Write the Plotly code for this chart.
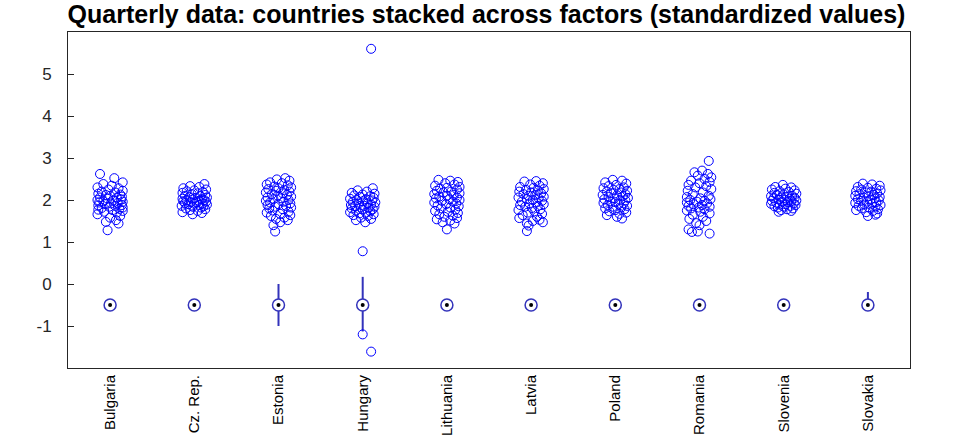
"""Quarterly data: countries stacked across factors (standardized values)"""

import plotly.graph_objects as go

countries = ["Bulgaria", "Cz. Rep.", "Estonia", "Hungary", "Lithuania",
             "Latvia", "Poland", "Romania", "Slovenia", "Slovakia"]

# jittered scatter: (offset from category, value)
bulgaria = [(-0.12, 2.62), (0.05, 2.52), (0.15, 2.42), (-0.08, 2.38), (0.02, 2.34),
            (-0.15, 2.30), (0.10, 2.28), (-0.02, 2.25), (0.15, 2.22), (-0.10, 2.20),
            (0.06, 2.18), (-0.14, 2.15), (0.12, 2.13), (-0.05, 2.12), (0.00, 2.10),
            (0.14, 2.08), (-0.12, 2.06), (0.08, 2.05), (-0.03, 2.03), (0.13, 2.01),
            (-0.15, 2.00), (0.04, 1.99), (-0.08, 1.97), (0.15, 1.96), (-0.13, 1.94),
            (0.09, 1.93), (0.01, 1.92), (-0.06, 1.90), (0.14, 1.88), (-0.14, 1.87),
            (0.06, 1.86), (-0.01, 1.84), (0.15, 1.82), (-0.10, 1.81), (0.11, 1.79),
            (-0.14, 1.77), (0.03, 1.76), (0.15, 1.74), (-0.07, 1.72), (0.08, 1.70),
            (-0.15, 1.66), (0.12, 1.62), (0.00, 1.58), (0.07, 1.52), (-0.05, 1.48),
            (0.10, 1.44), (-0.03, 1.28)]
cz_rep = [(0.12, 2.38), (-0.05, 2.33), (0.06, 2.31), (-0.13, 2.28), (0.14, 2.25),
          (0.00, 2.23), (-0.09, 2.21), (0.10, 2.19), (-0.14, 2.17), (0.04, 2.16),
          (-0.03, 2.14), (0.13, 2.12), (-0.11, 2.10), (0.07, 2.09), (-0.06, 2.07),
          (0.15, 2.06), (0.01, 2.05), (-0.14, 2.03), (0.09, 2.02), (-0.02, 2.01),
          (0.12, 2.00), (-0.09, 1.99), (0.05, 1.98), (-0.13, 1.97), (0.14, 1.96),
          (-0.04, 1.95), (0.03, 1.94), (-0.11, 1.93), (0.10, 1.92), (0.00, 1.91),
          (-0.07, 1.90), (0.15, 1.89), (0.06, 1.88), (-0.15, 1.86), (0.11, 1.85),
          (-0.02, 1.84), (0.08, 1.82), (-0.10, 1.80), (0.13, 1.78), (-0.05, 1.76),
          (0.04, 1.74), (-0.14, 1.71), (0.09, 1.69), (-0.02, 1.66)]
estonia = [(0.08, 2.52), (-0.02, 2.49), (0.13, 2.46), (-0.10, 2.42), (0.04, 2.40),
           (-0.14, 2.37), (0.11, 2.35), (-0.05, 2.32), (0.15, 2.30), (0.00, 2.28),
           (-0.12, 2.26), (0.07, 2.24), (-0.03, 2.22), (0.13, 2.20), (-0.15, 2.18),
           (0.05, 2.16), (-0.08, 2.14), (0.10, 2.12), (-0.01, 2.10), (0.15, 2.08),
           (-0.13, 2.06), (0.03, 2.04), (-0.06, 2.02), (0.12, 2.00), (-0.15, 1.98),
           (0.06, 1.96), (-0.10, 1.94), (0.14, 1.92), (0.00, 1.90), (-0.13, 1.88),
           (0.09, 1.86), (-0.04, 1.84), (0.15, 1.82), (-0.11, 1.80), (0.05, 1.78),
           (-0.07, 1.75), (0.12, 1.72), (-0.14, 1.70), (0.02, 1.67), (0.14, 1.64),
           (-0.09, 1.62), (0.07, 1.58), (-0.03, 1.55), (0.11, 1.52), (0.02, 1.47),
           (-0.06, 1.40), (-0.04, 1.25)]
hungary = [(0.10, 5.60), (0.12, 2.28), (-0.06, 2.23), (0.05, 2.20), (-0.13, 2.17),
           (0.14, 2.15), (0.00, 2.13), (-0.10, 2.11), (0.09, 2.09), (-0.03, 2.07),
           (0.13, 2.05), (-0.15, 2.03), (0.04, 2.02), (-0.07, 2.00), (0.11, 1.99),
           (0.00, 1.97), (-0.12, 1.95), (0.15, 1.94), (0.06, 1.92), (-0.05, 1.91),
           (0.10, 1.89), (-0.14, 1.88), (0.02, 1.86), (-0.09, 1.85), (0.14, 1.84),
           (-0.02, 1.82), (0.07, 1.81), (-0.13, 1.80), (0.12, 1.78), (0.00, 1.77),
           (-0.08, 1.75), (0.09, 1.73), (-0.15, 1.71), (0.04, 1.70), (-0.04, 1.68),
           (0.13, 1.66), (-0.11, 1.64), (0.06, 1.62), (-0.02, 1.58), (0.10, 1.55),
           (-0.08, 1.52), (0.03, 1.47), (0.10, -1.61)]
lithuania = [(-0.10, 2.48), (0.04, 2.46), (0.13, 2.43), (-0.02, 2.40), (0.09, 2.37),
             (-0.14, 2.34), (0.15, 2.31), (0.00, 2.29), (-0.08, 2.27), (0.12, 2.25),
             (-0.12, 2.22), (0.05, 2.20), (-0.04, 2.18), (0.15, 2.16), (-0.15, 2.14),
             (0.08, 2.12), (0.00, 2.10), (-0.09, 2.08), (0.12, 2.06), (-0.13, 2.04),
             (0.03, 2.02), (0.15, 2.00), (-0.06, 1.98), (0.07, 1.96), (-0.15, 1.94),
             (0.11, 1.92), (-0.01, 1.90), (-0.11, 1.87), (0.14, 1.85), (0.04, 1.82),
             (-0.07, 1.80), (0.10, 1.77), (-0.14, 1.74), (0.01, 1.72), (0.13, 1.69),
             (-0.09, 1.66), (0.07, 1.63), (-0.03, 1.60), (0.12, 1.57), (-0.12, 1.54),
             (0.04, 1.51), (-0.05, 1.47), (0.09, 1.44), (0.00, 1.30)]
latvia = [(0.06, 2.45), (-0.08, 2.44), (0.14, 2.40), (-0.01, 2.37), (0.10, 2.34),
          (-0.13, 2.31), (0.03, 2.29), (0.15, 2.26), (-0.06, 2.24), (0.08, 2.22),
          (-0.14, 2.20), (0.00, 2.18), (0.12, 2.16), (-0.09, 2.14), (0.05, 2.12),
          (-0.03, 2.10), (0.15, 2.08), (-0.15, 2.06), (0.09, 2.04), (-0.05, 2.02),
          (0.02, 2.00), (0.13, 1.98), (-0.11, 1.96), (0.06, 1.94), (-0.02, 1.92),
          (0.15, 1.90), (-0.13, 1.88), (0.08, 1.86), (-0.07, 1.84), (0.01, 1.81),
          (0.11, 1.78), (-0.15, 1.76), (0.04, 1.73), (-0.04, 1.70), (0.13, 1.67),
          (-0.10, 1.64), (0.07, 1.60), (-0.14, 1.57), (0.10, 1.53), (0.02, 1.50),
          (0.14, 1.47), (-0.05, 1.44), (-0.03, 1.39), (-0.05, 1.26)]
poland = [(-0.03, 2.48), (0.08, 2.46), (-0.12, 2.42), (0.13, 2.39), (0.01, 2.36),
          (-0.08, 2.33), (0.10, 2.30), (-0.14, 2.28), (0.05, 2.26), (-0.02, 2.24),
          (0.14, 2.22), (-0.10, 2.20), (0.07, 2.18), (-0.05, 2.16), (0.12, 2.14),
          (-0.15, 2.12), (0.02, 2.11), (0.09, 2.09), (-0.08, 2.07), (0.15, 2.05),
          (-0.01, 2.04), (-0.13, 2.02), (0.06, 2.00), (0.12, 1.99), (-0.06, 1.97),
          (0.00, 1.95), (-0.14, 1.93), (0.10, 1.92), (0.04, 1.90), (-0.09, 1.88),
          (0.14, 1.86), (-0.03, 1.84), (0.07, 1.82), (-0.12, 1.80), (0.11, 1.78),
          (0.00, 1.76), (-0.07, 1.73), (0.13, 1.70), (0.05, 1.67), (-0.10, 1.64),
          (0.02, 1.60), (0.08, 1.56)]
romania = [(0.11, 2.93), (0.03, 2.70), (-0.06, 2.66), (0.10, 2.62), (-0.02, 2.58),
           (0.14, 2.54), (0.06, 2.50), (-0.10, 2.46), (0.12, 2.43), (0.00, 2.40),
           (-0.13, 2.36), (0.08, 2.33), (-0.05, 2.30), (0.14, 2.26), (-0.14, 2.22),
           (0.04, 2.18), (-0.08, 2.14), (0.11, 2.10), (-0.15, 2.07), (0.01, 2.04),
           (0.13, 2.02), (-0.11, 2.00), (0.06, 1.98), (-0.03, 1.96), (-0.15, 1.94),
           (0.09, 1.92), (-0.07, 1.90), (0.03, 1.88), (-0.13, 1.86), (0.12, 1.84),
           (-0.01, 1.82), (-0.10, 1.80), (0.06, 1.78), (-0.15, 1.75), (0.01, 1.72),
           (0.12, 1.68), (-0.08, 1.65), (0.04, 1.60), (-0.12, 1.55), (0.08, 1.50),
           (-0.04, 1.45), (0.00, 1.40), (-0.13, 1.30), (-0.02, 1.25), (-0.09, 1.24),
           (0.12, 1.20)]
slovenia = [(-0.01, 2.36), (-0.10, 2.31), (0.09, 2.30), (0.02, 2.27), (-0.14, 2.25),
            (0.13, 2.23), (-0.05, 2.21), (0.06, 2.19), (-0.11, 2.17), (0.15, 2.15),
            (0.00, 2.13), (-0.08, 2.12), (0.10, 2.10), (-0.15, 2.09), (0.04, 2.08),
            (-0.03, 2.06), (0.13, 2.05), (-0.12, 2.04), (0.07, 2.03), (-0.06, 2.01),
            (0.01, 2.00), (0.15, 1.99), (-0.14, 1.98), (0.09, 1.97), (-0.02, 1.96),
            (0.05, 1.95), (-0.09, 1.94), (0.12, 1.92), (-0.15, 1.91), (0.02, 1.90),
            (-0.05, 1.89), (0.14, 1.88), (0.08, 1.86), (-0.11, 1.85), (0.00, 1.84),
            (-0.07, 1.82), (0.11, 1.80), (0.04, 1.78), (-0.03, 1.76), (0.09, 1.74),
            (-0.06, 1.72)]
slovakia = [(-0.06, 2.39), (0.05, 2.37), (0.14, 2.34), (-0.12, 2.31), (0.00, 2.29),
            (0.10, 2.27), (-0.08, 2.25), (0.15, 2.23), (-0.14, 2.21), (0.04, 2.20),
            (-0.02, 2.18), (0.11, 2.16), (-0.10, 2.14), (0.07, 2.12), (-0.15, 2.10),
            (0.01, 2.09), (0.14, 2.07), (-0.05, 2.06), (0.08, 2.04), (-0.12, 2.02),
            (0.03, 2.01), (0.13, 1.99), (-0.08, 1.98), (-0.01, 1.96), (0.10, 1.95),
            (-0.15, 1.93), (0.05, 1.91), (-0.04, 1.89), (0.15, 1.88), (-0.11, 1.86),
            (0.09, 1.84), (0.01, 1.82), (-0.07, 1.80), (0.12, 1.78), (-0.14, 1.76),
            (0.06, 1.74), (-0.02, 1.71), (0.11, 1.68), (0.00, 1.62), (0.09, 1.65)]

scatter_sets = [bulgaria, cz_rep, estonia, hungary, lithuania,
                latvia, poland, romania, slovenia, slovakia]

# compact boxplot summary
medians = [-0.5, -0.5, -0.5, -0.5, -0.5, -0.5, -0.5, -0.5, -0.5, -0.5]
whisker_lo = [-0.5, -0.5, -1.0, -1.13, -0.6, -0.5, -0.5, -0.5, -0.5, -0.5]
whisker_hi = [-0.38, -0.38, 0.0, 0.17, -0.5, -0.5, -0.42, -0.5, -0.5, -0.19]
outlier_pos = [4, 4]
outlier_val = [0.78, -1.2]

y_ticks = [-1, 0, 1, 2, 3, 4, 5]
y_labels = ["-1", "0", "1", "2", "3", "4", "5"]

BLUE = "#0000ff"
BOX_BLUE = "#3333bb"

fig = go.Figure()

xs, ys = [], []
for i, pts in enumerate(scatter_sets, start=1):
    for dx, v in pts:
        xs.append(i + dx)
        ys.append(v)
fig.add_trace(go.Scatter(
    x=xs, y=ys, mode="markers",
    marker=dict(symbol="circle-open", size=9, color=BLUE, line=dict(width=1)),
))

# whiskers
wx, wy = [], []
for i, (lo, hi) in enumerate(zip(whisker_lo, whisker_hi), start=1):
    wx += [i, i, None]
    wy += [lo, hi, None]
fig.add_trace(go.Scatter(x=wx, y=wy, mode="lines",
                         line=dict(color=BOX_BLUE, width=2)))

pos = list(range(1, len(countries) + 1))
fig.add_trace(go.Scatter(
    x=pos, y=medians, mode="markers",
    marker=dict(symbol="circle", size=12, color="white",
                line=dict(color=BOX_BLUE, width=1.5)),
))
fig.add_trace(go.Scatter(
    x=pos, y=medians, mode="markers",
    marker=dict(symbol="circle", size=4, color="black"),
))
fig.add_trace(go.Scatter(
    x=outlier_pos, y=outlier_val, mode="markers",
    marker=dict(symbol="circle-open", size=9, color=BLUE, line=dict(width=1)),
))

axis_line = dict(showline=True, linecolor="#262626", linewidth=1, mirror=True,
                 showgrid=False, zeroline=False, automargin=False)

fig.update_layout(
    width=973, height=439,
    title=dict(text="<b>Quarterly data: countries stacked across factors (standardized values)</b>",
               x=0.5, xanchor="center", y=0.968, yanchor="middle",
               font=dict(family="Liberation Sans, Arial", size=25, color="black")),
    showlegend=False,
    paper_bgcolor="white", plot_bgcolor="white",
    margin=dict(l=68, r=63, t=32, b=71),
    font=dict(family="Liberation Sans, Arial", size=15, color="#262626"),
    xaxis=dict(range=[0.5, 10.5], tickvals=pos, ticktext=countries,
               tickangle=-90, ticks="", tickfont=dict(size=15, color="black"),
               **axis_line),
    yaxis=dict(range=[-2, 6], tickvals=y_ticks, ticktext=y_labels,
               ticks="inside", ticklen=6, tickcolor="#262626",
               tickfont=dict(size=17, color="#262626"), ticklabelstandoff=12,
               **axis_line),
)

fig.write_html("out.html", config={"displayModeBar": False},
               post_script="document.body.style.margin='0';")
